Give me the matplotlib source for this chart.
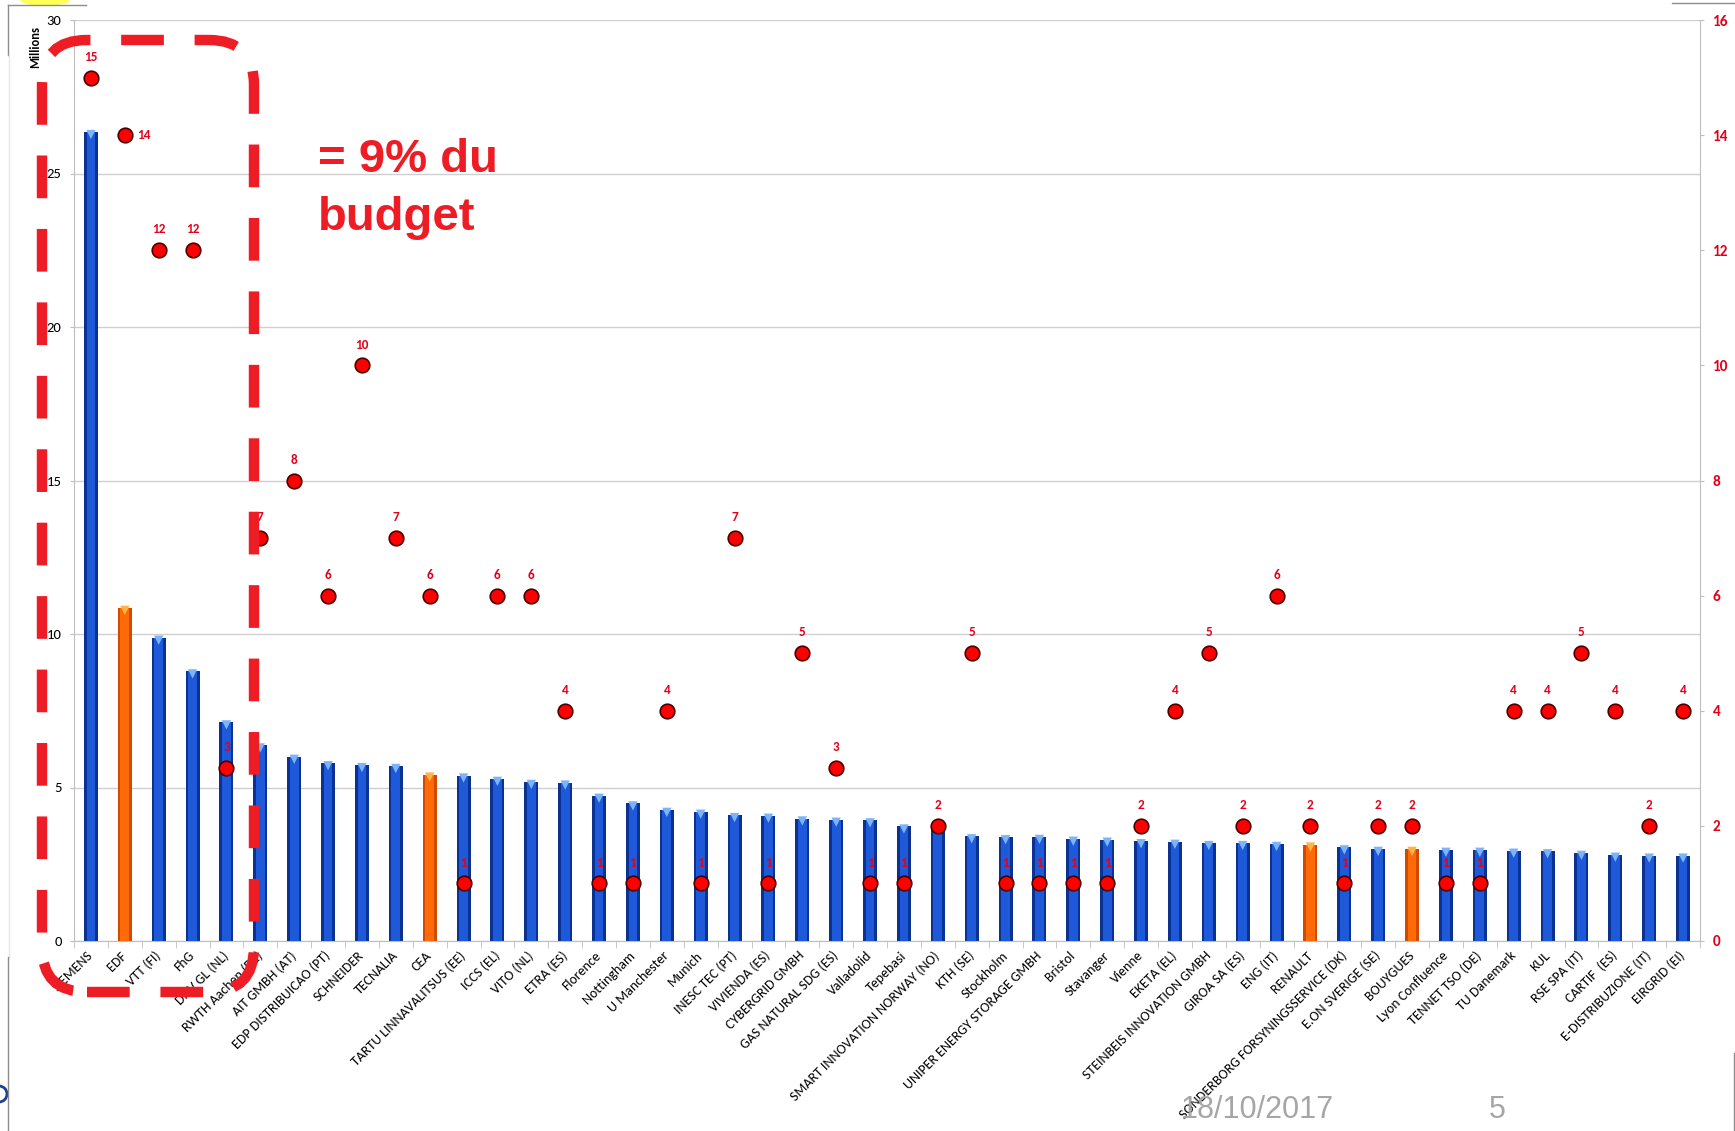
import numpy as np
import matplotlib
matplotlib.use('Agg')
import matplotlib.pyplot as plt
from matplotlib.patches import FancyBboxPatch, Ellipse, Circle
from matplotlib.lines import Line2D
from matplotlib.transforms import IdentityTransform

plt.rcParams['font.family'] = ['Liberation Sans', 'DejaVu Sans']

W, H = 1735, 1131

# partenaires, budget (millions) et nombre de projets
partners = ['SIEMENS', 'EDF', 'VTT (FI)', 'FhG', 'DNV GL (NL)', 'RWTH Aachen (DE)',
            'AIT GMBH (AT)', 'EDP DISTRIBUICAO (PT)', 'SCHNEIDER', 'TECNALIA', 'CEA',
            'TARTU LINNAVALITSUS (EE)', 'ICCS (EL)', 'VITO (NL)', 'ETRA (ES)', 'Florence',
            'Nottingham', 'U Manchester', 'Munich', 'INESC TEC (PT)', 'VIVIENDA (ES)',
            'CYBERGRID GMBH', 'GAS NATURAL SDG (ES)', 'Valladolid', 'Tepebasi',
            'SMART INNOVATION NORWAY (NO)', 'KTH (SE)', 'Stockholm',
            'UNIPER ENERGY STORAGE GMBH', 'Bristol', 'Stavanger', 'Vienne', 'EKETA (EL)',
            'STEINBEIS INNOVATION GMBH', 'GIROA SA (ES)', 'ENG (IT)', 'RENAULT',
            'SONDERBORG FORSYNINGSSERVICE (DK)', 'E.ON SVERIGE (SE)', 'BOUYGUES',
            'Lyon Confluence', 'TENNET TSO (DE)', 'TU Danemark', 'KUL', 'RSE SPA (IT)',
            'CARTIF  (ES)', 'E-DISTRIBUZIONE (IT)', 'EIRGRID (EI)']

budget = [26.35, 10.85, 9.88, 8.78, 7.12, 6.37, 6.0, 5.79, 5.73, 5.70, 5.42, 5.39,
          5.28, 5.18, 5.16, 4.73, 4.48, 4.27, 4.21, 4.10, 4.08, 3.99, 3.95, 3.93,
          3.73, 3.70, 3.41, 3.38, 3.39, 3.33, 3.30, 3.25, 3.23, 3.19, 3.19, 3.16,
          3.14, 3.05, 3.00, 3.00, 2.97, 2.97, 2.94, 2.92, 2.87, 2.81, 2.78, 2.78]

projects = [15, 14, 12, 12, 3, 7, 8, 6, 10, 7, 6, 1, 6, 6, 4, 1, 1, 4, 1, 7, 1, 5, 3,
            1, 1, 2, 5, 1, 1, 1, 1, 2, 4, 5, 2, 6, 2, 1, 2, 2, 1, 1, 4, 4, 5, 4, 2, 4]

orange = ['EDF', 'CEA', 'RENAULT', 'BOUYGUES']

red = '#EE1C25'
label_font = ['Carlito', 'Lato', 'Liberation Sans']

fig = plt.figure(figsize=(W / 100, H / 100), dpi=100)
ax = fig.add_axes([74 / W, 1 - 941 / H, (1700 - 74) / W, (941 - 20) / H])

x = np.arange(len(partners))
outer = ['#D24A00' if p in orange else '#0B3290' for p in partners]
inner = ['#FF6A08' if p in orange else '#1D59D8' for p in partners]
cap = ['#FFB347' if p in orange else '#7DB4F7' for p in partners]

# barres "cylindre"
ax.bar(x, budget, width=0.41, color=outer, zorder=2)
ax.bar(x, budget, width=0.26, color=inner, zorder=3)
ax.scatter(x, np.array(budget) - 0.08, marker='v', s=45, c=cap, linewidths=0, zorder=4)

ax.set_xlim(-0.5, len(partners) - 0.5)
ax.set_ylim(0, 30)
ax.set_yticks(range(0, 31, 5))
ax.yaxis.grid(True, color='#CFCFCF', linewidth=1)
ax.set_axisbelow(True)
for s in ['top', 'right']:
    ax.spines[s].set_visible(False)
for s in ['left', 'bottom']:
    ax.spines[s].set_color('#BFBFBF')
ax.tick_params(axis='y', length=3, color='#BFBFBF', labelsize=10.5, pad=6)
for t in ax.get_yticklabels():
    t.set_family(label_font)

ax.set_xticks(x)
ax.set_xticklabels(partners, rotation=45, ha='right', va='center',
                   rotation_mode='anchor', fontsize=10, family=label_font)
ax.set_xticks(np.arange(-0.5, len(partners), 1), minor=True)
ax.tick_params(axis='x', which='major', length=0, pad=9)
ax.tick_params(axis='x', which='minor', length=5, color='#BFBFBF')

# axe secondaire : nombre de projets
ax2 = ax.twinx()
ax2.set_ylim(0, 16)
ax2.set_yticks(range(0, 17, 2))
for s in ['top', 'left', 'bottom']:
    ax2.spines[s].set_visible(False)
ax2.spines['right'].set_color('#BFBFBF')
ax2.tick_params(axis='y', length=3, color='#BFBFBF', labelsize=11,
                labelcolor='#E3001B', pad=6)
for t in ax2.get_yticklabels():
    t.set_fontweight('bold')
    t.set_family(label_font)

ax2.scatter(x, projects, s=110, c='#FF0000', edgecolors='#4A0000',
            linewidths=1.2, zorder=5)
for xi, p, name in zip(x, projects, partners):
    if name == 'EDF':
        off, ha = (9, 0), 'left'
    else:
        off, ha = (0, 15), 'center'
    ax2.annotate(str(p), (xi, p), xytext=off, textcoords='offset points',
                 ha=ha, va='center', color='#E3001B', fontsize=9.5, family=label_font,
                 fontweight='bold', annotation_clip=False)

fig.text(35.5 / W, 1 - 47 / H, 'Millions', rotation=90, fontsize=9, family=label_font,
         fontweight='bold', ha='center', va='center')

# annotation
fig.text(318 / W, 1 - 172 / H, '= 9% du', fontsize=34, fontweight='bold',
         color=red, va='baseline')
fig.text(318 / W, 1 - 230 / H, 'budget', fontsize=34, fontweight='bold',
         color=red, va='baseline')

box = FancyBboxPatch((42, H - 992), 212, 952,
                     boxstyle='round,pad=0,rounding_size=45',
                     transform=IdentityTransform(), fill=False, edgecolor=red,
                     linewidth=7.5, linestyle=(0, (4.1, 2.95)), zorder=10)
fig.add_artist(box)

# pied de diapo
fig.text(1181 / W, 1 - 1118 / H, '18/10/2017', fontsize=22, color='#A6A6A6',
         va='baseline')
fig.text(1489 / W, 1 - 1118 / H, '5', fontsize=22, color='#A6A6A6', va='baseline')

# restes de la diapo
fig.add_artist(Ellipse((45, H), 48, 10, color='#FFFF55', transform=IdentityTransform()))
for (xa, ya, xb, yb, c) in [(8, 5, 86, 5, '#8C8C8C'), (8, 5, 8, 55, '#8C8C8C'),
                            (9, 55, 9, 957, '#E6E6E6'), (8, 957, 8, 1131, '#8C8C8C'),
                            (1672, 3, 1735, 3, '#8C8C8C'), (1734, 1053, 1734, 1131, '#8C8C8C')]:
    fig.add_artist(Line2D([xa, xb], [H - ya, H - yb], color=c, linewidth=1,
                          transform=IdentityTransform()))
fig.add_artist(Circle((-1, H - 1094), 8, fill=False, edgecolor='#1F3F8F', linewidth=2,
                      transform=IdentityTransform()))

fig.savefig('out.png', dpi=100)
